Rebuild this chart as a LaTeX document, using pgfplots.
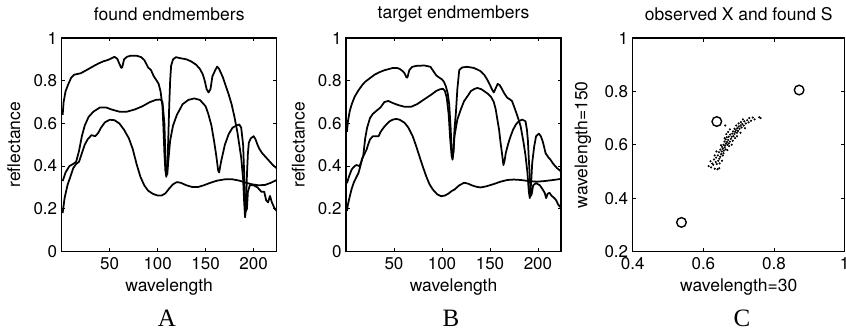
\documentclass[border=0pt]{standalone}
\usepackage{pgfplots}
\pgfplotsset{compat=1.18}
\usepackage{fontspec}
\setmainfont{TeX Gyre Heros}
\newfontfamily\seriffont{Liberation Serif}
\pgfplotsset{
  panel/.style={
    scale only axis, width=215pt, height=213.5pt, anchor=south west,
    axis line style={black, line width=1.1pt},
    every tick/.style={black, line width=0.9pt},
    major tick length=3.5pt, tick align=inside,
    tick label style={font=\fontsize{17}{19}\selectfont},
    label style={font=\fontsize{17.5}{20}\selectfont},
    title style={font=\fontsize{17.5}{20}\selectfont, at={(axis description cs:0.5,1.084)}, anchor=center},
    xlabel style={at={(axis description cs:0.5,-0.166)}, anchor=center},
    ylabel style={at={(axis description cs:-0.222,0.5)}, anchor=center},
    xticklabel style={yshift=-2pt},
    yticklabel style={xshift=-1pt},
    /pgf/number format/assume math mode=true,
    /pgf/number format/fixed,
  },
  spec/.style={panel, xmin=0, xmax=224, ymin=0, ymax=1,
    xtick={50,100,150,200}, ytick={0,0.2,0.4,0.6,0.8,1},
    xlabel={wavelength}, ylabel={reflectance}},
  curve/.style={black, line width=1.75pt, no marks, line join=round},
}
\begin{document}
\begin{tikzpicture}[x=1pt,y=1pt]
\useasboundingbox (0,0) rectangle (846,334);
% ---------------- A ----------------
\begin{axis}[spec, at={(61.7pt,82.5pt)}, title={found endmembers}]
\addplot[curve] coordinates {(1,0.64)(2,0.70)(4,0.75)(7,0.785)(10,0.815)(13,0.828)(20,0.835)(24,0.845)(28,0.855)(33,0.868)(38,0.88)(43,0.89)(48,0.897)(52,0.905)(55,0.912)(58,0.902)(60,0.88)(62,0.86)(63,0.862)(65,0.90)(68,0.912)(72,0.917)(78,0.917)(83,0.91)(86,0.897)(88,0.88)(90,0.862)(93,0.85)(96,0.82)(99,0.80)(101,0.785)(103,0.75)(105,0.68)(106,0.58)(107,0.46)(108,0.38)(109,0.35)(110,0.40)(111,0.52)(112,0.68)(113,0.80)(114,0.87)(116,0.90)(119,0.91)(124,0.905)(130,0.90)(135,0.89)(140,0.875)(144,0.855)(147,0.83)(149,0.80)(151,0.76)(153,0.745)(155,0.76)(157,0.82)(160,0.85)(162,0.866)(164,0.855)(166,0.835)(168,0.815)(171,0.775)(174,0.735)(177,0.69)(180,0.63)(183,0.56)(185,0.50)(187,0.44)(189,0.34)(190,0.24)(191,0.16)(192,0.20)(193,0.36)(194,0.46)(195,0.51)(197,0.53)(200,0.54)(202,0.525)(204,0.50)(206,0.48)(209,0.46)(213,0.44)(217,0.42)(220,0.405)(224,0.39)};
\addplot[curve] coordinates {(1,0.33)(4,0.37)(8,0.40)(12,0.41)(15,0.42)(18,0.47)(21,0.54)(24,0.59)(28,0.63)(33,0.655)(40,0.675)(46,0.675)(52,0.665)(60,0.655)(68,0.655)(76,0.665)(84,0.68)(92,0.70)(98,0.71)(103,0.712)(105,0.70)(107,0.60)(108,0.45)(109,0.37)(110,0.36)(111,0.42)(113,0.52)(116,0.59)(120,0.64)(126,0.69)(132,0.71)(138,0.717)(144,0.71)(150,0.68)(153,0.64)(156,0.59)(159,0.51)(161,0.45)(163,0.38)(164,0.37)(166,0.42)(170,0.50)(174,0.55)(178,0.58)(182,0.59)(185,0.595)(187,0.58)(189,0.50)(190,0.38)(191,0.25)(192,0.19)(193,0.20)(194,0.28)(196,0.31)(200,0.31)(204,0.30)(208,0.28)(211,0.28)(213,0.24)(215,0.23)(217,0.26)(219,0.23)(222,0.20)(224,0.19)};
\addplot[curve] coordinates {(1,0.18)(3,0.25)(6,0.31)(9,0.35)(12,0.39)(15,0.41)(18,0.42)(21,0.46)(24,0.50)(27,0.525)(31,0.545)(35,0.54)(38,0.555)(41,0.58)(45,0.605)(50,0.617)(55,0.615)(60,0.60)(65,0.57)(70,0.53)(74,0.48)(78,0.41)(82,0.35)(86,0.31)(90,0.285)(95,0.27)(100,0.262)(104,0.262)(108,0.272)(112,0.295)(116,0.315)(120,0.325)(124,0.322)(130,0.31)(136,0.302)(142,0.302)(148,0.31)(155,0.322)(162,0.332)(170,0.338)(178,0.338)(185,0.332)(192,0.322)(198,0.315)(205,0.31)(212,0.312)(218,0.322)(224,0.335)};
\end{axis}
% ---------------- B ----------------
\begin{axis}[spec, at={(346pt,82.5pt)}, title={target endmembers}]
\addplot[curve] coordinates {(1,0.56)(2,0.61)(4,0.66)(6,0.69)(9,0.725)(13,0.755)(17,0.78)(20,0.795)(25,0.812)(30,0.829)(35,0.84)(40,0.849)(45,0.855)(49,0.86)(53,0.86)(56,0.855)(59,0.845)(61,0.835)(63,0.815)(64,0.815)(66,0.85)(69,0.865)(74,0.87)(82,0.871)(88,0.865)(91,0.845)(94,0.825)(97,0.815)(100,0.806)(102,0.795)(104,0.774)(106,0.74)(107.5,0.69)(109,0.58)(110,0.48)(111,0.44)(112,0.47)(113,0.57)(114.5,0.65)(116,0.76)(118,0.85)(121,0.862)(126,0.865)(133,0.86)(137,0.852)(140,0.845)(144,0.828)(147,0.806)(150,0.78)(152,0.76)(154,0.745)(156,0.765)(158,0.785)(160,0.78)(162,0.765)(165,0.74)(168,0.72)(171,0.712)(173,0.704)(175,0.68)(177,0.655)(180,0.615)(182,0.585)(185,0.51)(187,0.45)(189,0.37)(190.5,0.28)(191.5,0.25)(193,0.33)(194,0.415)(196,0.49)(198,0.54)(201,0.552)(203,0.54)(205,0.515)(208,0.46)(211,0.44)(213,0.43)(216,0.41)(220,0.39)(224,0.375)};
\addplot[curve] coordinates {(1,0.32)(3,0.35)(6,0.385)(9,0.40)(11,0.405)(14,0.40)(16,0.42)(18,0.45)(20,0.53)(22,0.58)(25,0.625)(28,0.645)(32,0.66)(36,0.675)(40,0.70)(44,0.705)(49,0.695)(55,0.685)(61,0.678)(68,0.678)(74,0.69)(79,0.705)(84,0.72)(89,0.735)(94,0.752)(98,0.76)(101,0.762)(103,0.752)(105,0.72)(107,0.64)(108.5,0.53)(110,0.45)(111,0.43)(112,0.47)(113,0.54)(116,0.618)(120,0.67)(123,0.704)(127,0.73)(130,0.751)(134,0.762)(137,0.766)(141,0.76)(144,0.751)(148,0.738)(151,0.725)(154,0.70)(156,0.665)(158,0.61)(159.5,0.57)(161,0.51)(162,0.478)(164,0.405)(165,0.42)(166.5,0.462)(169,0.505)(171.5,0.54)(174,0.57)(177,0.595)(180,0.61)(183.5,0.618)(187,0.61)(188.5,0.57)(189.5,0.52)(190.5,0.43)(191.5,0.35)(192.5,0.26)(193.5,0.27)(195,0.31)(198,0.32)(202,0.31)(205,0.29)(207,0.275)(208.5,0.25)(210,0.27)(212,0.275)(214,0.262)(217,0.25)(219,0.24)(221,0.22)(224,0.205)};
\addplot[curve] coordinates {(1,0.19)(2,0.22)(4,0.259)(6,0.295)(8,0.322)(11,0.35)(13,0.368)(15,0.40)(16.5,0.431)(19,0.455)(21.5,0.478)(23,0.50)(25,0.525)(28,0.54)(31,0.54)(34,0.54)(36,0.56)(39,0.579)(42,0.595)(45.5,0.61)(49,0.618)(52.5,0.621)(56,0.617)(61,0.603)(65,0.58)(69.5,0.54)(73,0.495)(76.5,0.446)(80,0.398)(83.5,0.353)(87,0.315)(90.5,0.29)(95,0.268)(99,0.259)(103,0.262)(107,0.272)(110,0.283)(113,0.29)(118,0.31)(123,0.322)(127,0.318)(131,0.31)(136,0.303)(140,0.30)(146,0.305)(154,0.316)(161,0.327)(168,0.335)(175,0.337)(182,0.335)(190,0.33)(199,0.327)(207,0.33)(216,0.335)(224,0.34)};
\end{axis}
% ---------------- C ----------------
\begin{axis}[panel, at={(632.7pt,82.5pt)}, height=213.5pt, width=212pt,
  xmin=0.4, xmax=1, ymin=0.2, ymax=1,
  xtick={0.4,0.6,0.8,1}, ytick={0.2,0.4,0.6,0.8,1},
  title={observed X and found S},
  xlabel={wavelength=30}, ylabel={wavelength=150},
  ylabel style={at={(axis description cs:-0.235,0.5)}},
  clip=false]
\addplot[only marks, mark=*, mark size=0.85pt, black] coordinates {
(0.615,0.520)(0.622,0.515)(0.628,0.525)(0.632,0.510)(0.640,0.508)(0.645,0.512)(0.625,0.530)(0.635,0.535)(0.630,0.545)(0.638,0.528)
(0.642,0.540)(0.636,0.552)(0.645,0.548)(0.641,0.560)(0.648,0.555)(0.650,0.565)(0.644,0.572)(0.652,0.575)(0.655,0.560)(0.648,0.582)
(0.655,0.585)(0.658,0.578)(0.653,0.592)(0.660,0.590)(0.657,0.600)(0.662,0.597)(0.650,0.598)(0.664,0.605)(0.660,0.612)(0.667,0.610)
(0.663,0.620)(0.670,0.618)(0.668,0.600)(0.672,0.605)(0.666,0.628)(0.675,0.612)(0.678,0.622)(0.672,0.630)(0.680,0.630)(0.676,0.638)
(0.685,0.632)(0.682,0.642)(0.688,0.640)(0.684,0.650)(0.690,0.648)(0.692,0.655)(0.688,0.660)(0.695,0.645)(0.696,0.662)(0.698,0.652)
(0.700,0.668)(0.693,0.672)(0.702,0.660)(0.705,0.672)(0.700,0.680)(0.708,0.665)(0.710,0.678)(0.706,0.685)(0.714,0.672)(0.716,0.688)
(0.720,0.680)(0.712,0.695)(0.724,0.692)(0.730,0.700)(0.735,0.690)(0.740,0.702)(0.745,0.695)(0.758,0.703)(0.762,0.700)(0.728,0.684)
(0.690,0.625)(0.683,0.615)(0.673,0.595)(0.660,0.625)(0.665,0.640)(0.670,0.648)(0.657,0.568)(0.663,0.583)(0.646,0.530)(0.653,0.540)
(0.662,0.672)(0.675,0.658)(0.718,0.662)(0.705,0.645)(0.620,0.538)(0.632,0.560)(0.637,0.575)(0.668,0.580)(0.680,0.600)(0.695,0.632)};
\addplot[only marks, mark=o, mark size=4.8pt, line width=1.4pt, black] coordinates {(0.538,0.309)(0.638,0.687)(0.871,0.805)};
\end{axis}
% panel letters
\node[font=\seriffont\fontsize{25}{28}\selectfont] at (167,16) {A};
\node[font=\seriffont\fontsize{25}{28}\selectfont] at (451,16) {B};
\node[font=\seriffont\fontsize{25}{28}\selectfont] at (742,16) {C};
\end{tikzpicture}
\end{document}
